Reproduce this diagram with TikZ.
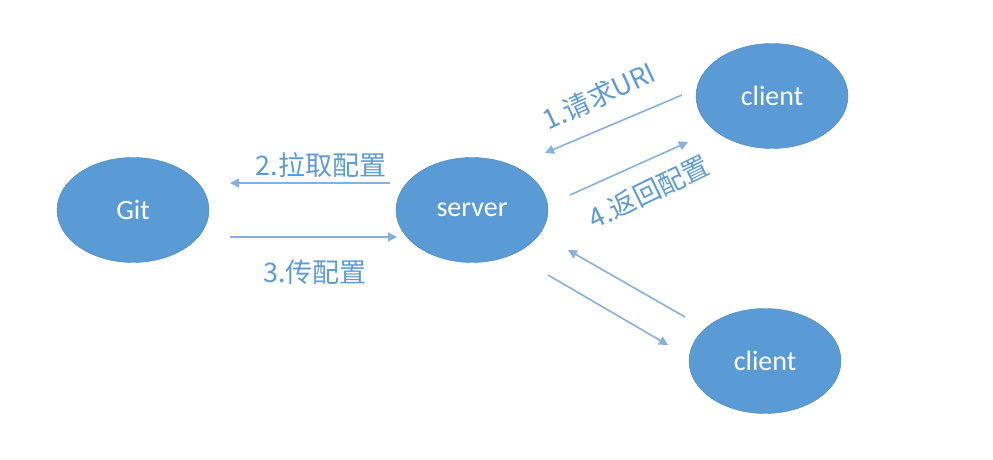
\documentclass[tikz,border=0pt]{standalone}
\usepackage{fontspec}
\setmainfont{Carlito}
\newfontfamily\cjk{Noto Sans CJK SC}
\usetikzlibrary{arrows.meta,shapes.geometric}
\definecolor{nodeblue}{HTML}{5B9BD5}
\definecolor{lineblue}{HTML}{86B0DE}
\definecolor{textblue}{HTML}{5E9AD6}
\tikzset{
    bubble/.style={ellipse, fill=nodeblue, draw=nodeblue!85!black, line width=0.4pt,
        minimum width=152pt, minimum height=105pt, inner sep=0pt,
        text=white, font=\fontsize{28}{32}\selectfont},
    flow/.style={draw=lineblue, line width=1.6pt, -{Triangle[width=9pt,length=9pt]}},
    tag/.style={text=textblue, font=\cjk\fontsize{27}{31}\selectfont, inner sep=0pt}
}
\begin{document}
\begin{tikzpicture}[x=1pt,y=1pt]
    \useasboundingbox[fill=white] (0,0) rectangle (993,460);
    % the four parties
    \node[bubble] (git) at (133,250) {Git};
    \node[bubble] (server) at (472,250) {server};
    \node[bubble] (clienta) at (772,364) {client};
    \node[bubble] (clientb) at (765,99) {client};
    % server <-> git
    \draw[flow] ([shift={(-82,27)}]server.center) -- ([shift={(97,27)}]git.center);
    \draw[flow] ([shift={(97,-27)}]git.center) -- ([shift={(-75,-27)}]server.center);
    \node[tag] (pull) at (321,295) {2.拉取配置};
    \node[tag] (push) at (315,188) {3.传配置};
    % clients <-> server
    \draw[flow] ([shift={(-90,1)}]clienta.center) -- ([shift={(73,57)}]server.center);
    \draw[flow] ([shift={(98,15)}]server.center) -- ([shift={(-84,-46)}]clienta.center);
    \node[tag, rotate=25] (ask) at (599,364) {1.请求URI};
    \node[tag, rotate=26] (reply) at (649,268) {4.返回配置};
    \draw[flow] ([shift={(-80,44)}]clientb.center) -- ([shift={(96,-40)}]server.center);
    \draw[flow] ([shift={(76,-65)}]server.center) -- ([shift={(-97,16)}]clientb.center);
\end{tikzpicture}
\end{document}
